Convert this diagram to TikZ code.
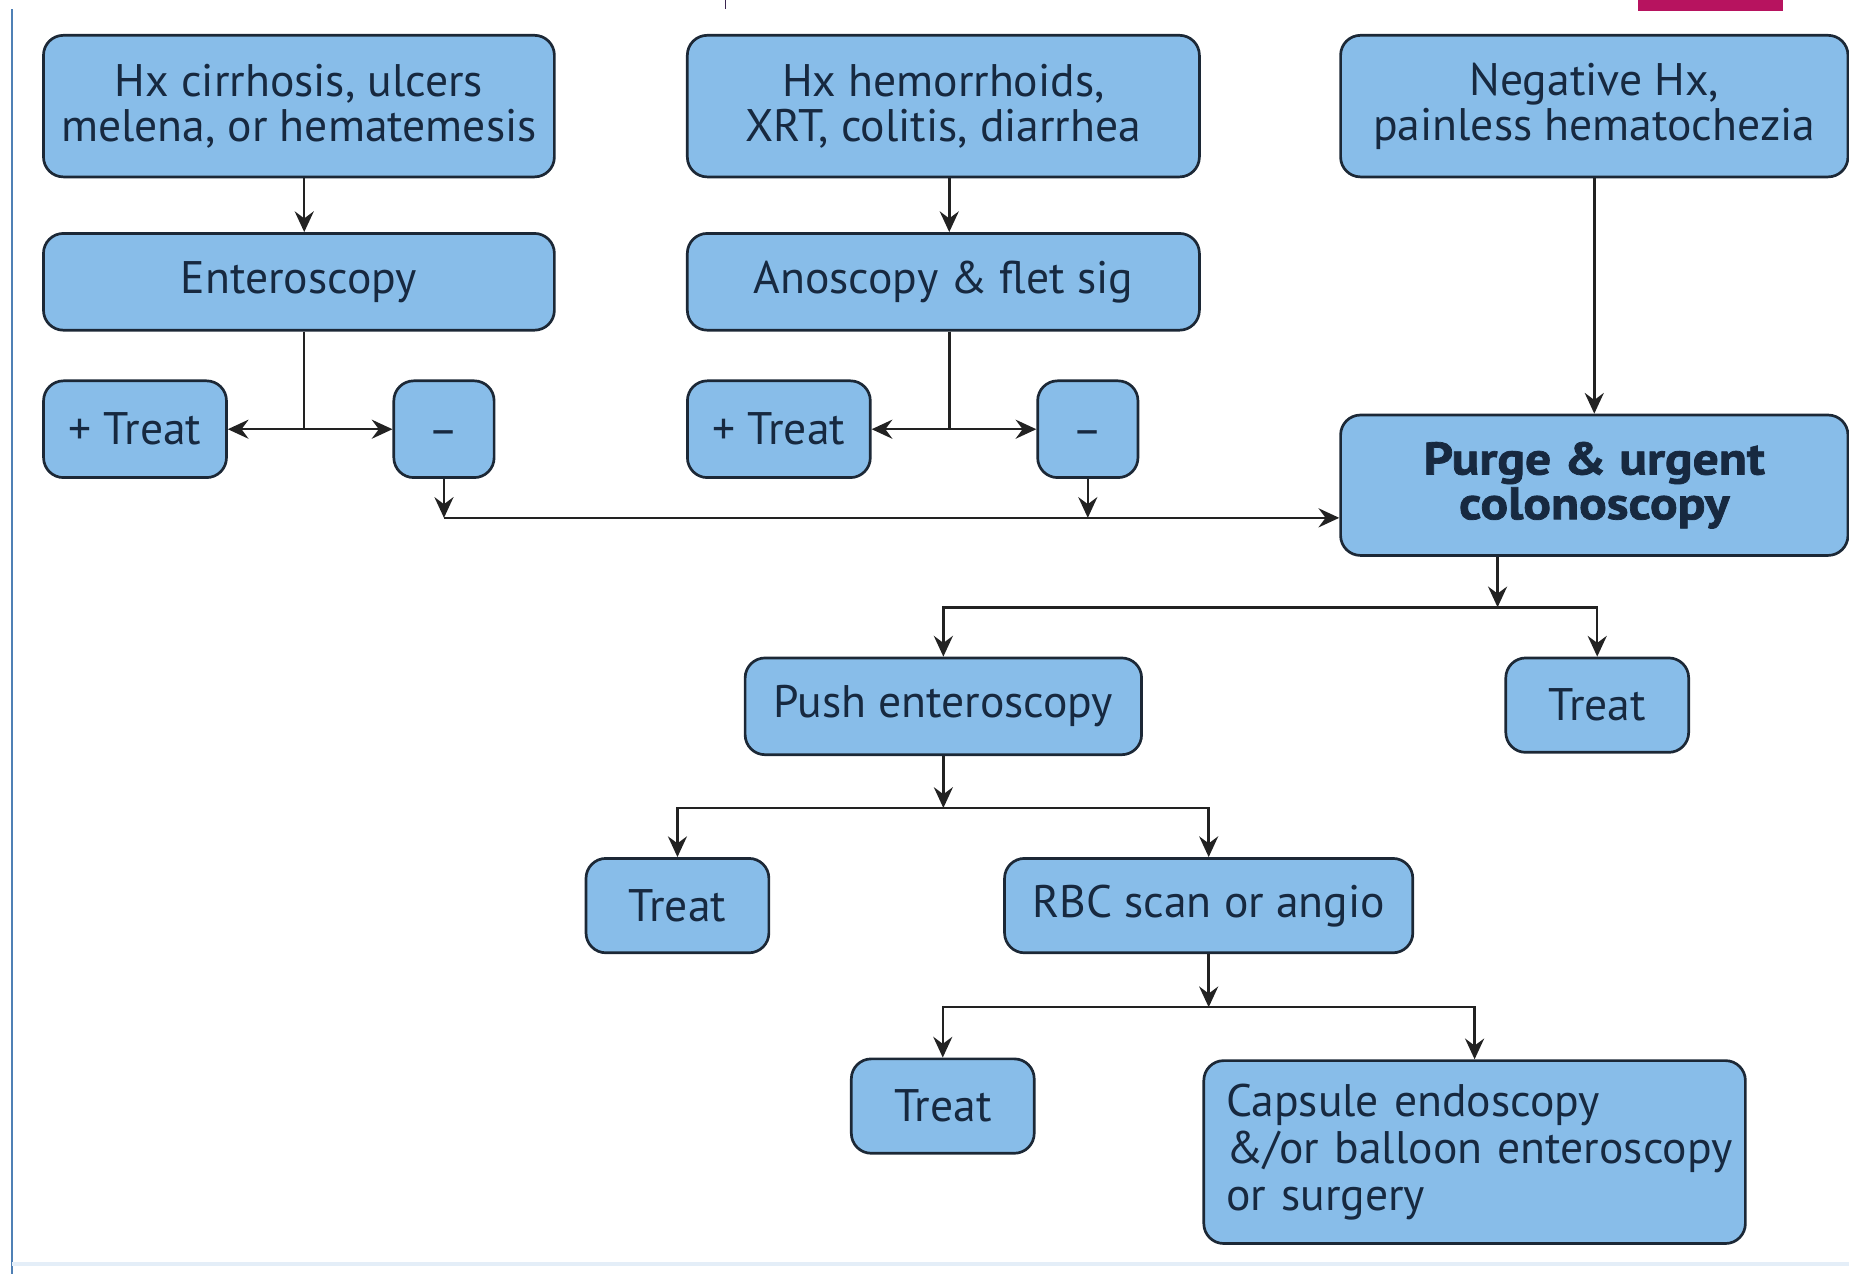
\documentclass[tikz,border=0pt]{standalone}
\usepackage{fontspec}
\setmainfont{PT Sans}
\newfontfamily\heavyfont{PT Sans}[BoldFeatures={FakeBold=1.6,FakeStretch=1.13}]
\usetikzlibrary{arrows.meta,calc}
\definecolor{boxfill}{HTML}{88BDE9}
\definecolor{boxline}{HTML}{1C2836}
\definecolor{ink}{HTML}{172940}
\definecolor{wire}{HTML}{222222}
\definecolor{rulecol}{HTML}{4F80B5}
\definecolor{tabcol}{HTML}{B7135F}
\definecolor{tickcol}{HTML}{3A2550}
\definecolor{faint}{HTML}{E4EEF8}
\newcommand{\negmark}{\vphantom{T}–}
\begin{document}
\begin{tikzpicture}[x=0.01cm,y=-0.01cm,
  box/.style={draw=boxline, fill=boxfill, line width=0.65pt, rounded corners=4.8pt,
    text=ink, font=\fontsize{11}{10.8}\selectfont, align=center, inner sep=0pt},
  wire/.style={draw=wire, line width=0.6pt},
  arr/.style={wire, -{Stealth[length=5pt,width=4.6pt,inset=1.7pt]}},
]
\useasboundingbox (0,0) rectangle (1568,1080);

% page furniture
\draw[rulecol, line width=0.6pt] (10,8) -- (10,1080);
\draw[tickcol, line width=0.3pt] (615,0) -- (615,8);
\fill[tabcol] (1389,0) rectangle (1512,9);
\draw[faint, line width=1pt] (10,1072) -- (1568,1072);

% history boxes
\node[box, minimum width=4.33cm, minimum height=1.20cm] (h1) at (253.5,90)
  {Hx cirrhosis, ulcers\\melena, or hematemesis};
\node[box, minimum width=4.34cm, minimum height=1.20cm] (h2) at (800,90)
  {Hx hemorrhoids,\\XRT, colitis, diarrhea};
\node[box, minimum width=4.30cm, minimum height=1.20cm] (h3) at (1352,90)
  {Negative Hx,\\painless hematochezia};

% first tests
\node[box, minimum width=4.33cm, minimum height=0.82cm] (ent) at (253.5,239) {Enteroscopy};
\node[box, minimum width=4.34cm, minimum height=0.82cm] (ano) at (800,239) {Anoscopy \& flet sig};

% results
\node[box, minimum width=1.55cm, minimum height=0.82cm] (t1) at (114.5,364) {+ Treat};
\node[box, minimum width=0.85cm, minimum height=0.82cm] (m1) at (376.5,364) {\negmark};
\node[box, minimum width=1.55cm, minimum height=0.82cm] (t2) at (660.5,364) {+ Treat};
\node[box, minimum width=0.85cm, minimum height=0.82cm] (m2) at (922.5,364) {\negmark};

% colonoscopy
\node[box, minimum width=4.30cm, minimum height=1.19cm] (purge) at (1352,411.5)
  {\heavyfont\bfseries Purge \& urgent\\\heavyfont\bfseries colonoscopy};

% lower cascade
\node[box, minimum width=3.36cm, minimum height=0.82cm] (push) at (800,599) {Push enteroscopy};
\node[box, minimum width=1.55cm, minimum height=0.80cm] (tr) at (1354.5,598) {Treat};
\node[box, minimum width=1.55cm, minimum height=0.80cm] (tm) at (574.5,768) {Treat};
\node[box, minimum width=3.46cm, minimum height=0.80cm] (rbc) at (1025,768) {RBC scan or angio};
\node[box, minimum width=1.55cm, minimum height=0.80cm] (tb) at (799.5,938) {Treat};
\node[box, minimum width=4.59cm, minimum height=1.55cm, text width=4.21cm, inner xsep=0.19cm,
  align=left, font=\fontsize{11}{11.4}\selectfont] (cap) at (1250.5,977)
  {\mbox{Capsule endoscopy}\\\mbox{\&/or balloon enteroscopy}\\\mbox{or surgery}};

% connectors: top row (stems sit a little right of the box centres)
\coordinate (s1) at ([xshift=0.045cm]h1.south);
\coordinate (s2) at ([xshift=0.05cm]h2.south);
\draw[arr] (s1) -- (s1 |- ent.north);
\draw[arr] (s2) -- (s2 |- ano.north);
\draw[arr] (h3) -- (purge);
\draw[arr] (s1 |- ent.south) |- (t1.east);
\draw[arr] (s1 |- ent.south) |- (m1.west);
\draw[arr] (s2 |- ano.south) |- (t2.east);
\draw[arr] (s2 |- ano.south) |- (m2.west);

% negative results go on to colonoscopy
\draw[arr] (m1.south) -- ++(0,33) coordinate (bus);
\draw[arr] (m2.south) -- (m2.south |- bus);
\draw[arr] (bus) -- (bus -| purge.west);

% after colonoscopy
\coordinate (p1) at (1270,515);
\draw[arr] (purge.south -| p1) -- (p1);
\draw[arr] (p1) -| (push);
\draw[arr] (p1) -| (tr);

\draw[arr] (push.south) -- ++(0,44) coordinate (p2);
\draw[arr] (p2) -| (tm);
\draw[arr] (p2) -| (rbc);

\draw[arr] (rbc.south) -- ++(0,45) coordinate (p3);
\draw[arr] (p3) -| (tb);
\draw[arr] (p3) -| (cap);
\end{tikzpicture}
\end{document}
